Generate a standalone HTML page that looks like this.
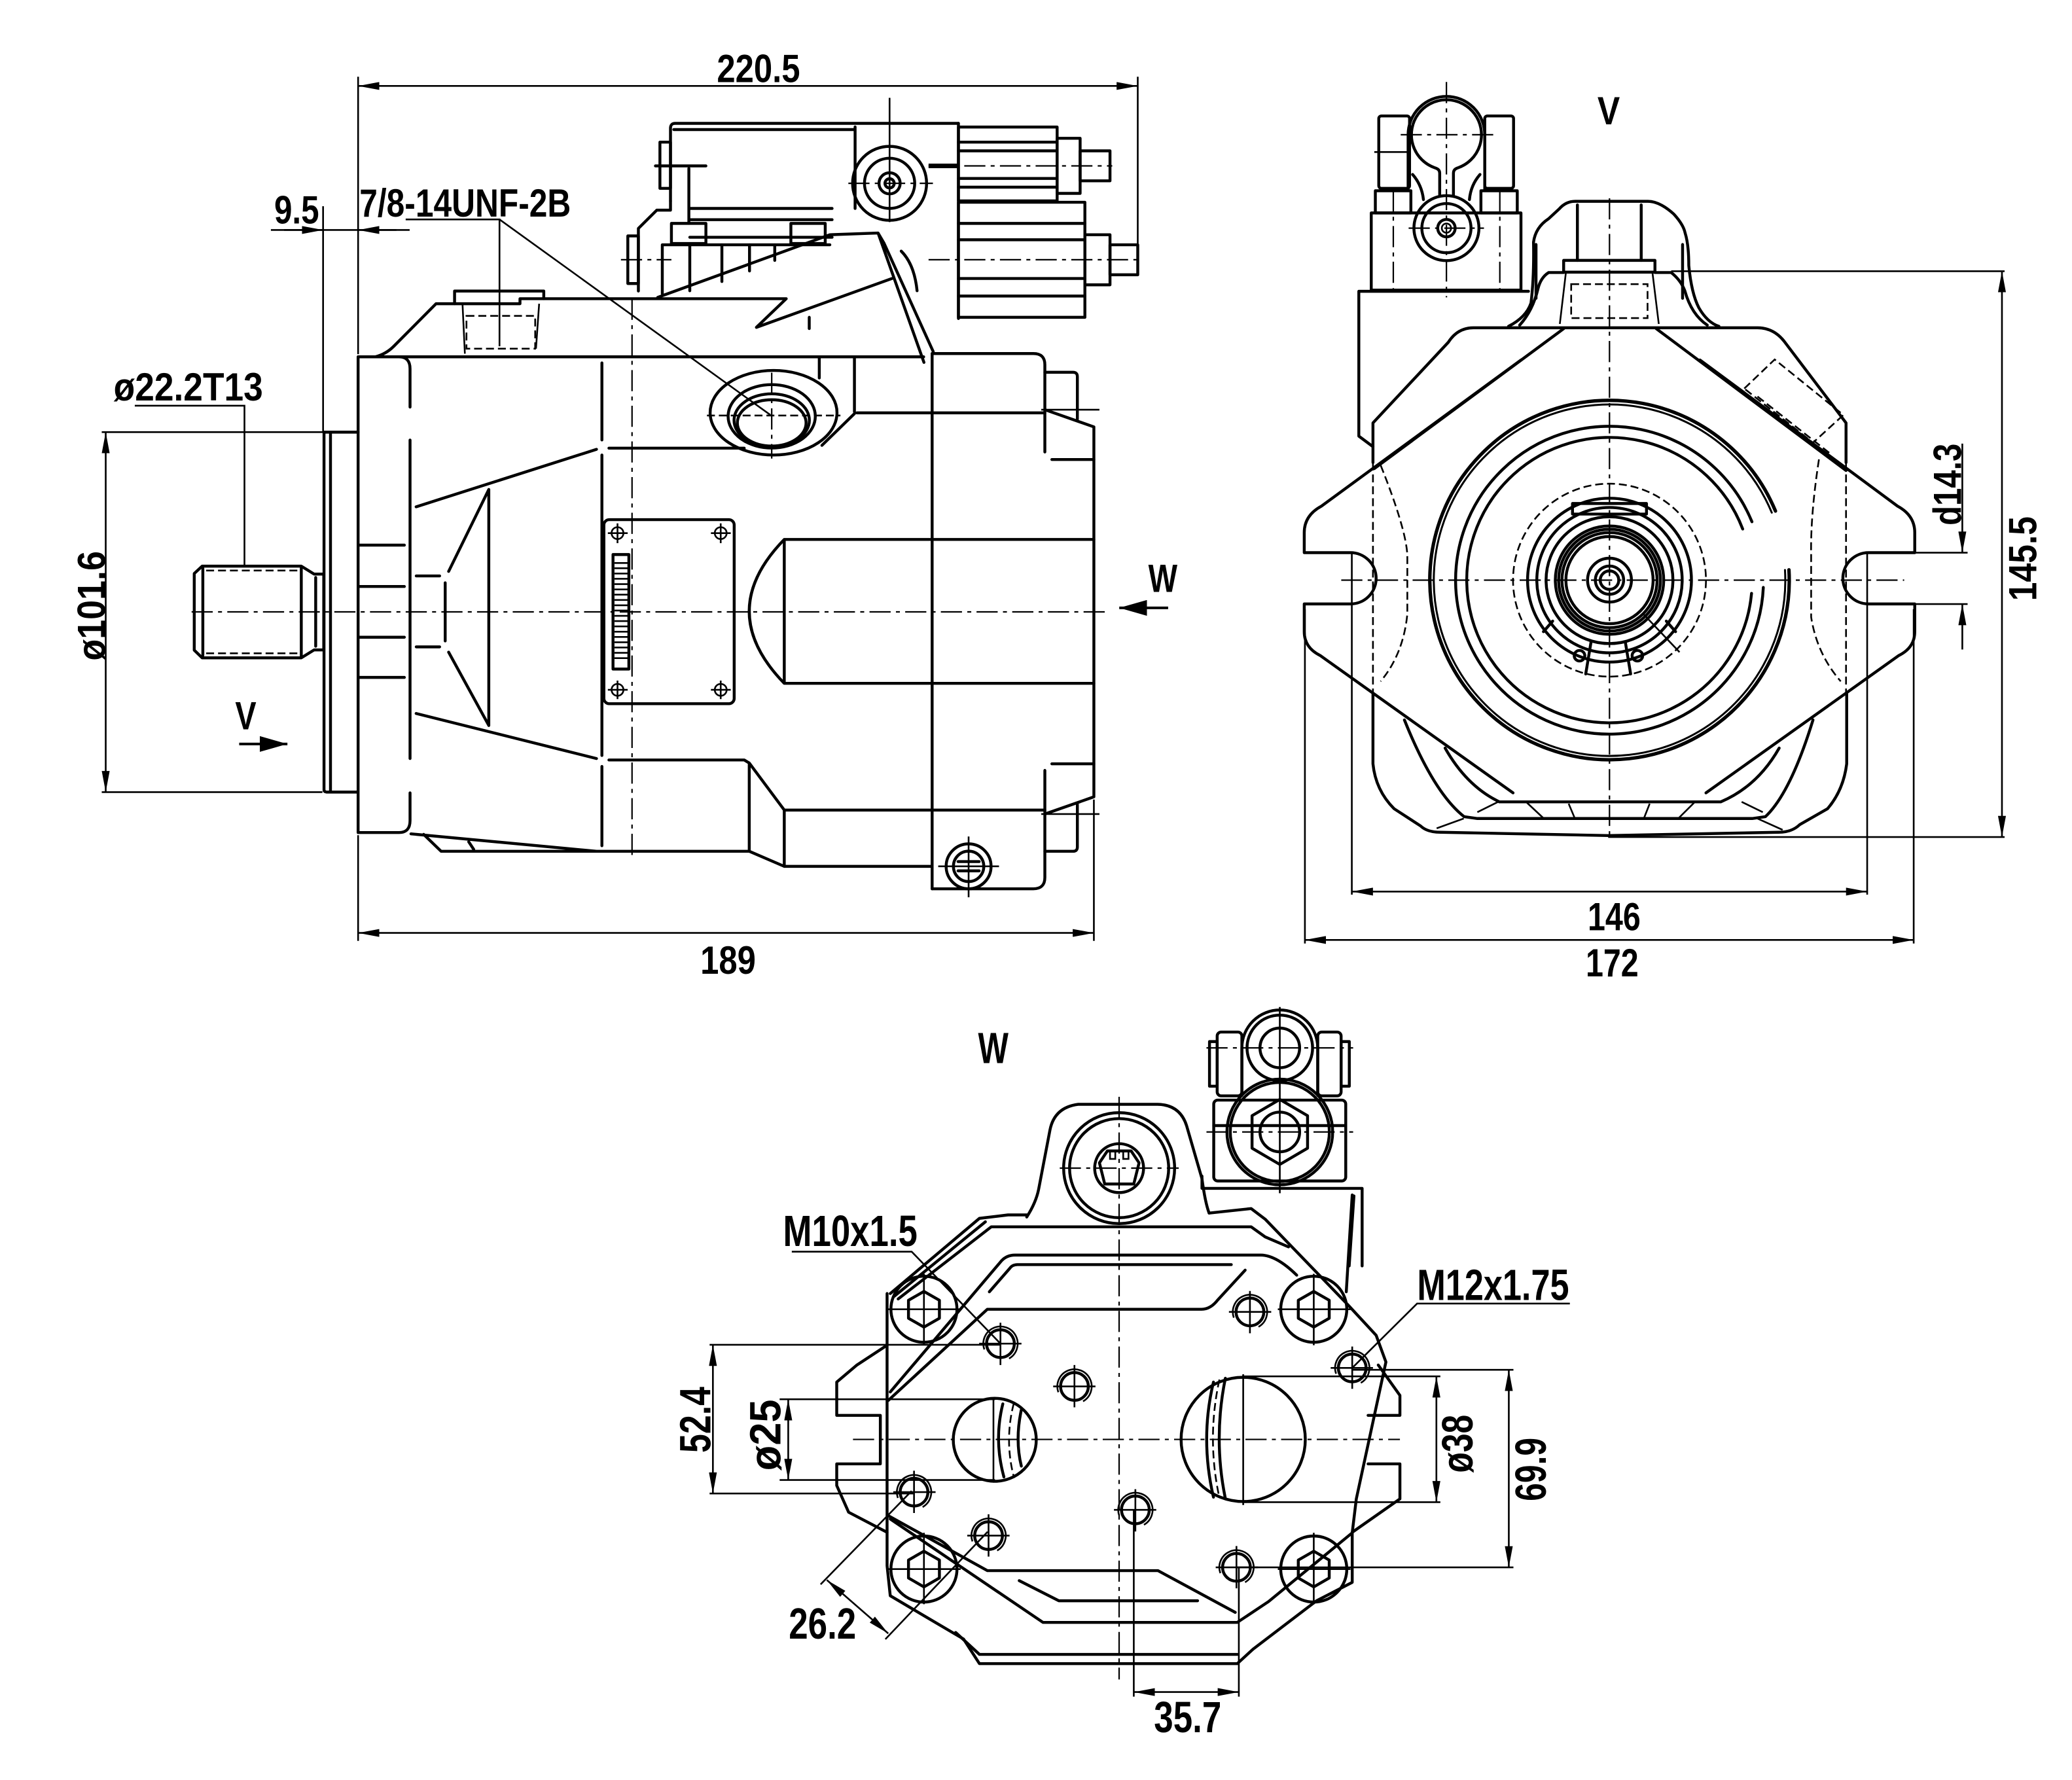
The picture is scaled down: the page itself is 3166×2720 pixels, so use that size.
<!DOCTYPE html>
<html><head><meta charset="utf-8"><style>
html,body{margin:0;padding:0;background:#fff;}
svg{display:block;}
.k{fill:none;stroke:#000;stroke-width:2.2;stroke-linejoin:round;stroke-linecap:round;}
.t{fill:none;stroke:#000;stroke-width:1.3;}
.c{fill:none;stroke:#000;stroke-width:1.1;stroke-dasharray:16 4 3 4;}
.d{fill:none;stroke:#000;stroke-width:1.3;stroke-dasharray:6 3;}
.tx{font-family:"Liberation Sans",Arial,sans-serif;font-weight:bold;font-size:30px;fill:#000;}
.tb{font-family:"Liberation Sans",Arial,sans-serif;font-weight:bold;font-size:33px;fill:#000;}
</style></head><body>
<svg width="3166" height="2720" viewBox="0 0 1568 1347" xmlns="http://www.w3.org/2000/svg">
<defs>
<marker id="ar" viewBox="0 0 16 6" refX="16" refY="3" markerWidth="16" markerHeight="6" markerUnits="userSpaceOnUse" orient="auto-start-reverse"><path d="M0,0 L16,3 L0,6 Z" fill="#000"/></marker>
<marker id="ab" viewBox="0 0 21 12" refX="21" refY="6" markerWidth="21" markerHeight="12" markerUnits="userSpaceOnUse" orient="auto"><path d="M0,0 L21,6 L0,12 Z" fill="#000"/></marker>
</defs>
<rect width="1568" height="1347" fill="#fff"/>

<!-- ================= LEFT VIEW ================= -->
<line class="t" x1="271" y1="58" x2="271" y2="268"/>
<line class="t" x1="861" y1="58" x2="861" y2="199"/>
<line class="t" x1="271" y1="65" x2="861" y2="65" marker-start="url(#ar)" marker-end="url(#ar)"/>
<text class="tx" x="574" y="62" text-anchor="middle" textLength="63" lengthAdjust="spacingAndGlyphs">220.5</text>

<line class="t" x1="244.5" y1="156" x2="244.5" y2="327"/>
<line class="t" x1="205" y1="174" x2="310" y2="174"/>
<line class="t" x1="215" y1="174" x2="244.5" y2="174" marker-end="url(#ar)"/>
<line class="t" x1="300" y1="174" x2="271" y2="174" marker-end="url(#ar)"/>
<text class="tx" x="224.5" y="169" text-anchor="middle" textLength="34" lengthAdjust="spacingAndGlyphs">9.5</text>

<text class="tx" x="272" y="164" textLength="160" lengthAdjust="spacingAndGlyphs">7/8-14UNF-2B</text>
<path class="t" d="M307,166 H378 V262 M378,166 L583,314"/>

<text class="tx" x="86" y="303" textLength="113" lengthAdjust="spacingAndGlyphs">ø22.2T13</text>
<path class="t" d="M102,307 H185 V429"/>

<line class="t" x1="77" y1="327" x2="267" y2="327"/>
<line class="t" x1="77" y1="599.4" x2="244" y2="599.4"/>
<line class="t" x1="80" y1="327" x2="80" y2="599.4" marker-start="url(#ar)" marker-end="url(#ar)"/>
<text class="tx" transform="translate(79.6,458.5) rotate(-90)" text-anchor="middle" textLength="83" lengthAdjust="spacingAndGlyphs">ø101.6</text>

<line class="t" x1="271" y1="632" x2="271" y2="712"/>
<line class="t" x1="827.8" y1="605" x2="827.8" y2="712"/>
<line class="t" x1="271" y1="706" x2="827.8" y2="706" marker-start="url(#ar)" marker-end="url(#ar)"/>
<text class="tx" x="551" y="737" text-anchor="middle" textLength="42" lengthAdjust="spacingAndGlyphs">189</text>

<text class="tx" x="186" y="552" text-anchor="middle" textLength="16" lengthAdjust="spacingAndGlyphs">V</text>
<line x1="181" y1="563" x2="217.5" y2="563" stroke="#000" stroke-width="2" marker-end="url(#ab)"/>
<text class="tx" x="880" y="448" text-anchor="middle" textLength="22" lengthAdjust="spacingAndGlyphs">W</text>
<line x1="884" y1="460" x2="847" y2="460" stroke="#000" stroke-width="2" marker-end="url(#ab)"/>

<!-- shaft & flange -->
<line class="c" x1="145" y1="463" x2="838" y2="463"/>
<path class="k" d="M153,428.4 H228 L237.7,434.4 H245 V491.8 H237.7 L228,497.8 H153 L147,492 V434 Z"/>
<path class="k" d="M153.5,430 V496 M228,429 V497 M238.9,437 V489"/>
<path class="d" d="M156,431.7 H226 M156,494.4 H226"/>
<path class="k" d="M245.2,327 V597.7 Q245.2,599.4 248,599.4 H270.8 M250.1,327 V598 M245.2,327 H271"/>

<!-- main body -->
<path class="k" d="M271,630 V270 H699"/>
<path class="k" d="M284,270 Q292,268 298,262 L330,229.8 H393.5 V226 H595 L572.4,247.7 L675,210.7"/>
<path class="k" d="M344,229.8 V220.2 H411.5 V226"/>
<path class="t" d="M350,229.8 L351.8,267.6 M408,229.8 L405.6,263.8"/>
<rect class="d" x="353" y="239" width="52" height="24.8"/>
<path class="k" d="M271,270 H302 Q310.3,270 310.3,279 V308 M310.3,333 V574 M310.3,600 V621 Q310.3,630 302,630 H271"/>
<path class="k" d="M271,412.5 H306 M271,443.8 H306 M271,482.2 H306 M271,512.6 H306"/>
<path class="k" d="M455.5,274.6 V332.9 M455.5,344.3 V571.7 M455.5,580 V640"/>
<line class="c" x1="478.3" y1="226" x2="478.3" y2="648"/>
<path class="k" d="M460.8,339.1 H563.2 M314.9,383.5 L451.4,340 M314.9,539.9 L451.4,574"/>
<path class="k" d="M460.8,575.1 H563.2 L567,577.4 L593.5,613 H790.7 M567,577.4 V644.2 M593.5,613 V655.6"/>
<path class="k" d="M311,631 L451.4,644.2 M320.6,631.4 L333.8,644.2 H567 L593.5,655.6 H705.4 M354.7,637 L358.5,642.8"/>
<path class="k" d="M369.9,370.4 V549 M369.9,370.4 L339.5,432.4 M339.5,493.5 L369.9,549 M336.9,441 V485 M315,435.8 H332.7 M315,489.5 H332.7"/>
<rect class="k" x="457" y="393.2" width="98.6" height="139.3" rx="4"/>
<g class="t">
<circle cx="467.3" cy="403.4" r="4.5"/><circle cx="545.4" cy="403.4" r="4.5"/><circle cx="467.3" cy="522" r="4.5"/><circle cx="545.4" cy="522" r="4.5"/>
<path d="M460,403.4 H475 M467.3,396 V411 M538,403.4 H553 M545.4,396 V411 M460,522 H475 M467.3,515 V529 M538,522 H553 M545.4,515 V529"/>
</g>
<rect class="k" x="463.9" y="419.6" width="12" height="86.7"/>
<path class="t" d="M465,426 H475 M465,430 H475 M465,434 H475 M465,438 H475 M465,442 H475 M465,446 H475 M465,450 H475 M465,454 H475 M465,458 H475 M465,462 H475 M465,466 H475 M465,470 H475 M465,474 H475 M465,478 H475 M465,482 H475 M465,486 H475 M465,490 H475 M465,494 H475 M465,498 H475"/>
<path class="k" d="M593.5,408.2 H827.8 M593.5,517.1 H827.8 M593.5,408.2 V517.1 M593.5,408.2 Q540.5,462.6 593.5,517.1"/>
<path class="k" d="M705.4,267.5 V672.6"/>
<path class="k" d="M705.4,267.5 H782 Q790.7,267.5 790.7,276 V310 L827.8,323 V603 L790.7,616 V664 Q790.7,672.6 782,672.6 H705.4"/>
<path class="k" d="M790.7,281.7 H812 Q815.3,281.7 815.3,285 V317.3 M790.7,644.2 H812 Q815.3,644.2 815.3,641 V608.7"/>
<path class="k" d="M790.7,310 V342 M790.7,583 V616 M796,347.7 H827.8 M796,578 H827.8"/>
<path class="t" d="M788,310 H832 M788,616 H832"/>
<path class="k" d="M648.5,312.4 H790.7 M620,271 V286 M646.6,271 V311.6 M646.6,313 L622,337"/>
<ellipse class="k" cx="585.4" cy="312.3" rx="48" ry="32"/>
<ellipse class="k" cx="584" cy="315" rx="33" ry="24"/>
<ellipse class="k" cx="584" cy="318" rx="28.5" ry="20"/>
<ellipse class="k" cx="584" cy="320" rx="26" ry="17.5"/>
<path class="d" d="M535,314.4 H636"/>
<line class="c" x1="584" y1="282" x2="584" y2="347"/>
<circle class="k" cx="733" cy="655.6" r="17"/>
<circle class="k" cx="733" cy="655.6" r="11.5"/>
<path class="k" d="M725,652 H741 M725,659 H741"/>
<path class="t" d="M710,655.6 H756 M733,633 V679"/>

<!-- control valve -->
<path class="k" d="M507.4,152 V97 Q507.4,93.3 511,93.3 H725.3"/>
<path class="k" d="M509.9,98 H647 M647.1,96 V157.7 M522,157.7 H629.7 M522,166.2 H629.7"/>
<rect class="k" x="499.4" y="107.5" width="8" height="35"/>
<path class="k" d="M496,125.5 H534.2 M521.3,127.4 V169"/>
<circle class="k" cx="673.2" cy="138.7" r="28"/>
<circle class="k" cx="673.2" cy="138.7" r="19"/>
<circle class="k" cx="673.2" cy="138.7" r="8"/>
<circle class="k" cx="673.2" cy="138.7" r="3.5"/>
<line class="t" x1="673.2" y1="74" x2="673.2" y2="168"/>
<line class="c" x1="642" y1="138.7" x2="706" y2="138.7"/>
<path class="k" d="M725.3,93.3 V241"/>
<rect class="k" x="725.3" y="96.1" width="74.7" height="55.9"/>
<path class="k" d="M725.3,107.5 H800 M725.3,114.1 H800 M725.3,135 H800 M725.3,141.6 H800"/>
<rect class="k" x="800" y="104.6" width="17.4" height="41.7"/>
<rect class="k" x="817.4" y="114.1" width="22.6" height="22.7"/>
<path d="M702.7,125.5 H725.3" stroke="#000" stroke-width="3.5"/>
<rect class="k" x="725.3" y="153" width="95.7" height="87.1"/>
<path class="k" d="M725.3,169 H821 M725.3,181.4 H821 M725.3,210.7 H821 M725.3,224 H821"/>
<rect class="k" x="821" y="177.6" width="19" height="37.9"/>
<rect class="k" x="840" y="185.2" width="21" height="22.7"/>
<line class="c" x1="702.7" y1="125.5" x2="841.7" y2="125.5"/>
<line class="c" x1="702.7" y1="196.5" x2="861" y2="196.5"/>
<path class="k" d="M483.1,220.2 V172.8 L497,159 H507.4 V152"/>
<rect class="k" x="475.1" y="178.5" width="8" height="36"/>
<path class="k" d="M501.2,222.1 V185.2 H628"/>
<rect class="k" x="508.1" y="169" width="26.1" height="15.2"/>
<rect class="k" x="598.5" y="169" width="26" height="15.2"/>
<path class="k" d="M522,185.2 V220 M546.3,185.2 V213 M567.2,185.2 V205 M586.3,185.2 V197 M522,179.5 H629.7"/>
<line class="c" x1="469.9" y1="196.5" x2="508.1" y2="196.5"/>
<path class="k" d="M497.7,225 L628,177.6 L664.5,176.3 L669,184 M664.5,176.3 L699.2,274.2 M669,184 L706.2,266"/>
<path class="k" d="M682,190 Q692,200 694,220"/>
<path class="k" d="M612.4,240.1 V248.6"/>

<!-- ================= RIGHT VIEW ================= -->
<text class="tx" x="1217.4" y="94" text-anchor="middle" textLength="17" lengthAdjust="spacingAndGlyphs">V</text>
<rect class="k" x="1043.4" y="87.7" width="23.3" height="54.8" rx="2"/>
<rect class="k" x="1123.6" y="87.7" width="21.8" height="54.8" rx="2"/>
<path class="k" d="M1065.6,143 V101.9 A29,29 0 0 1 1123.6,101.9 V143"/>
<path class="k" d="M1089.5,148 V131 Q1089.5,128 1086,127 A26.5,26.5 0 1 1 1103.2,127 Q1099.9,128 1099.9,131 V148"/>
<path class="k" d="M1069,132 Q1076,140 1077.2,151 M1120,132 Q1113,140 1112,151"/>
<rect class="k" x="1040.8" y="144.3" width="26.9" height="16.8"/>
<rect class="k" x="1120.7" y="144.3" width="27.5" height="16.8"/>
<rect class="k" x="1037.7" y="161.1" width="113.3" height="58.4"/>
<circle class="k" cx="1094.6" cy="172.6" r="24.6"/>
<circle class="k" cx="1094.6" cy="172.6" r="18.6"/>
<circle class="k" cx="1094.6" cy="172.6" r="6.6"/>
<circle class="t" cx="1094.6" cy="172.6" r="3.5"/>
<line class="c" x1="1054.4" y1="144" x2="1054.4" y2="223"/>
<line class="c" x1="1135" y1="144" x2="1135" y2="223"/>
<line class="c" x1="1094.6" y1="62" x2="1094.6" y2="225"/>
<line class="c" x1="1060" y1="101.9" x2="1130" y2="101.9"/>
<line class="c" x1="1066" y1="172.6" x2="1123" y2="172.6"/>
<line class="t" x1="1040" y1="115" x2="1066" y2="115"/>
<path class="k" d="M1156.7,220.4 H1028.3 V330 L1039,338"/>
<path class="k" d="M1141.6,246.9 Q1155,240 1158.6,229.2 Q1161,210 1160.5,183.2 Q1162,172 1171.9,165.5 L1180,158 Q1185,152.3 1192,152.3 H1247 Q1256,152.3 1266.7,162 Q1274,170 1275.2,176.2 Q1278,185 1278,200.9 Q1280,222 1285.6,232.8 Q1292,244 1300.8,246.9"/>
<path class="k" d="M1162.4,185 V225.7 M1273.3,185 V225.7 M1193.7,155 V197 M1242,155 V197"/>
<rect class="k" x="1183.3" y="197" width="69.1" height="8.9"/>
<path class="k" d="M1171.9,206.2 H1183.3 M1252.4,206.2 H1264.7 M1171.9,206.2 Q1166,210 1164,218 Q1160,235 1150,246 M1264.7,206.2 Q1272,212 1275,220 Q1280,238 1292,246"/>
<path class="t" d="M1185,206.2 L1180.4,245.1 M1250.5,206.2 L1255.3,245.1"/>
<rect class="d" x="1189" y="215" width="57.8" height="25.7"/>
<line class="t" x1="1264.7" y1="205.2" x2="1517" y2="205.2"/>
<path class="k" d="M1039,350 V320 L1096,259 Q1103,248 1115,248 H1330 Q1342,248 1350,258 L1397,320 V350"/>
<path class="d" d="M1039,350 V525 M1397,350 V525"/>
<path class="k" d="M1039,525 V578 Q1041,598 1055,612 L1075,625 Q1080,629.8 1090,629.8 L1217,632.3 L1346,629.8 Q1356,629.8 1362,624 L1383,612 Q1395,598 1397.5,578 V525"/>
<path class="k" d="M1183.3,248.7 L1040,354.6 M1253.4,248.7 L1397,356"/>
<path class="k" d="M1151,272.4 L1000,383 Q987,390 987,403 V418.2 H1022 A19.4,19.4 0 0 1 1022,457 H987 V478 Q987,490 999,496 L1145,600"/>
<path class="k" d="M1286.5,272.4 L1436,383 Q1449,390 1449,403 V418.2 H1414 A19.4,19.4 0 0 0 1414,457 H1449 V478 Q1449,490 1437,496 L1291,600"/>
<path class="d" d="M1044.8,352 Q1064,400 1065,420 V464.7 Q1062,495 1044.8,515.6 M1376.5,347.6 Q1370,390 1370.6,420 V467 Q1375,495 1393,515.6"/>
<path class="d" d="M1320,294 L1343,272 L1395,314 L1372,335 Z M1330,300 L1386,344"/>
<path class="k" d="M1062.8,544.8 Q1085,600 1108,618 L1118,619.4 H1326 L1336,618 Q1355,600 1372,544.8"/>
<path class="k" d="M1093.6,566.1 Q1110,595 1134.7,606.8 H1302.2 Q1330,595 1346.4,566.1"/>
<path class="t" d="M1118,614.6 L1133.7,606.8 M1087.2,626.8 L1107.7,619.4 M1155.6,607.5 L1168.3,619.4 M1187.1,608.2 L1191.8,619.4 M1248.4,608.2 L1244,619.4 M1282,607.5 L1270,619.4 M1318,606.8 L1334,614.6 M1330,619.4 L1349,628"/>
<path class="k" style="stroke-width:2.6" d="M1353.8,431.2 A136,136 0 1 1 1343.6,386.7"/>
<path class="k" style="stroke-width:1.5" d="M1350.8,431.3 A133,133 0 1 1 1340.8,387.9"/>
<path class="k" d="M1334.4,444.5 A116.5,116.5 0 1 1 1325.8,394.8"/>
<path class="k" d="M1325.5,449 A108,108 0 1 1 1318.8,400.3"/>
<circle class="d" cx="1218" cy="439" r="73"/>
<circle class="k" cx="1218" cy="439" r="62"/>
<circle class="k" cx="1218" cy="439" r="55"/>
<circle class="k" cx="1218" cy="439" r="48"/>
<circle class="k" cx="1218" cy="439" r="41"/>
<circle class="k" cx="1218" cy="439" r="38.5"/>
<circle class="k" cx="1218" cy="439" r="36"/>
<circle class="k" cx="1218" cy="439" r="33"/>
<circle class="k" cx="1218" cy="439" r="16.6"/>
<circle class="k" cx="1218" cy="439" r="10.7"/>
<circle class="k" cx="1218" cy="439" r="7"/>
<path class="k" d="M1190,381 H1246 V389 H1190 Z"/>
<circle class="k" cx="1195.3" cy="496.2" r="4"/>
<circle class="k" cx="1239.1" cy="496.2" r="4"/>
<path class="k" d="M1204,486 L1200,510 M1230,486 L1234,510 M1175,470 L1168,478 M1261,470 L1268,478"/>
<path class="t" d="M1243.8,464.8 L1271,493.5"/>
<line class="c" x1="1015" y1="439" x2="1441" y2="439"/>
<line class="c" x1="1218" y1="150" x2="1218" y2="636"/>
<line class="t" x1="1217" y1="633.4" x2="1517" y2="633.4"/>
<line class="t" x1="1515" y1="205.2" x2="1515" y2="633.4" marker-start="url(#ar)" marker-end="url(#ar)"/>
<text class="tx" transform="translate(1541,422.7) rotate(-90)" text-anchor="middle" textLength="64" lengthAdjust="spacingAndGlyphs">145.5</text>
<line class="t" x1="1413" y1="418.2" x2="1489" y2="418.2"/>
<line class="t" x1="1413" y1="457.1" x2="1489" y2="457.1"/>
<line class="t" x1="1485" y1="335.7" x2="1485" y2="418.2" marker-end="url(#ar)"/>
<line class="t" x1="1485" y1="491.5" x2="1485" y2="457.1" marker-end="url(#ar)"/>
<text class="tx" transform="translate(1484,366.6) rotate(-90)" text-anchor="middle" textLength="62" lengthAdjust="spacingAndGlyphs">d14.3</text>
<line class="t" x1="1023" y1="418" x2="1023" y2="677"/>
<line class="t" x1="1413" y1="418" x2="1413" y2="677"/>
<line class="t" x1="1023" y1="674.7" x2="1413" y2="674.7" marker-start="url(#ar)" marker-end="url(#ar)"/>
<text class="tx" x="1221.5" y="704" text-anchor="middle" textLength="40" lengthAdjust="spacingAndGlyphs">146</text>
<line class="t" x1="987.5" y1="461" x2="987.5" y2="714"/>
<line class="t" x1="1448.2" y1="461" x2="1448.2" y2="714"/>
<line class="t" x1="987.5" y1="711.3" x2="1448.2" y2="711.3" marker-start="url(#ar)" marker-end="url(#ar)"/>
<text class="tx" x="1220" y="739" text-anchor="middle" textLength="40" lengthAdjust="spacingAndGlyphs">172</text>

<!-- ================= BOTTOM VIEW (W) ================= -->
<text class="tb" x="751.7" y="804.6" text-anchor="middle" textLength="23" lengthAdjust="spacingAndGlyphs">W</text>
<path class="k" d="M777,921 Q784,910 786,900 L794.6,855 Q798,838 815.9,835.7 H876 Q893,836 898,852 L909.6,892 Q912,910 915,918"/>
<circle class="k" cx="846.9" cy="884" r="42"/>
<circle class="k" cx="846.9" cy="884" r="37.5"/>
<circle class="k" cx="846.9" cy="884" r="18.5"/>
<polygon class="k" points="838,871 856,871 862,880 858,896 836,896 832,880"/>
<path class="t" d="M840,871 V877 H844 V871 M850,871 V877 H854 V871"/>
<path class="k" d="M939.8,829 V793 A28.7,28.7 0 0 1 997.2,793 V829"/>
<rect class="k" x="921.1" y="781" width="18.7" height="48.3" rx="3"/>
<rect class="k" x="915.3" y="788.2" width="5.8" height="33.8"/>
<rect class="k" x="997.2" y="781" width="17.7" height="48.3" rx="3"/>
<rect class="k" x="1014.9" y="788.2" width="6.2" height="33.8"/>
<circle class="k" cx="968.5" cy="793" r="24.8"/>
<circle class="k" cx="968.5" cy="793" r="15"/>
<rect class="k" x="918.5" y="832.5" width="99.9" height="61.2" rx="3"/>
<path class="k" d="M918.5,851.8 H1018.4"/>
<circle class="k" cx="968.5" cy="856.6" r="40" fill="#fff"/>
<circle class="k" cx="968.5" cy="856.6" r="37.5"/>
<polygon class="k" points="968.5,832 989.5,844.3 989.5,868.9 968.5,881.2 947.5,868.9 947.5,844.3"/>
<circle class="k" cx="968.5" cy="856.6" r="15"/>
<line class="t" x1="968.5" y1="762" x2="968.5" y2="903"/>
<line class="c" x1="913" y1="793" x2="1024" y2="793"/>
<line class="c" x1="913" y1="856.6" x2="1024" y2="856.6"/>
<path class="k" d="M909.6,890 V899.3 H1030.8 V958 M1024.6,905 L1021,958 M1023.3,904.3 L1018.8,977.6"/>
<line class="c" x1="802" y1="884" x2="892" y2="884"/>
<path class="k" d="M673.7,978.9 L741.2,922 L762.8,919.4 H777 M915,918 L946.8,914.6 L957.4,922.6 L1020.3,987.7 L1041.4,1010.5 L1048.8,1030.7 L1026.4,1134.3 L1023.3,1160 V1197.5 L996.3,1211.4 L948.3,1248 L936.3,1259 H741.2 L729.2,1240.4 L699.2,1222.7 L673.7,1207.6 L671.3,1184.9 V978.9"/>
<path class="k" d="M671.3,1018 L648.2,1033.2 L633.2,1045.9 V1071.1 H666.2 V1107.8 H633.2 V1124.2 L642.2,1144.4 L671.3,1159.6"/>
<path class="k" d="M1043,1033 L1059.4,1056 V1071.1 H1035.3 M1035.3,1107.8 H1059.4 V1134.3 L1023.3,1159.6"/>
<path class="k" d="M676.7,981 L745.7,924.6 M679.7,983 L750.2,928.4 H946.8 L957.4,936 L975.1,943.6"/>
<path class="k" d="M672.2,1059.8 L747.2,990.8 H909.3 Q916,990.8 921.4,983.9 L942.3,961.2"/>
<path class="k" d="M673.7,1053.4 L758,954 Q762,949.8 768,949.8 H954.3 Q966,950 981.3,965"/>
<path class="k" d="M748.7,977.6 L764,960 Q766,957 770,957 H931.8"/>
<path class="k" d="M672.2,1147 L747.2,1188.6 H876.3 L934.8,1220.2"/>
<path class="k" d="M673.7,1149.5 L789.3,1227.8 H936.3 L960,1212 L1023.3,1160"/>
<path class="k" d="M771.3,1196.2 L801.3,1211.4 H906.3"/>
<path class="k" d="M723.2,1235.4 L741.2,1252 H936.3"/>
<g class="k">
<circle cx="699.2" cy="990.8" r="25"/><circle cx="994.2" cy="990.8" r="25"/><circle cx="699.2" cy="1187.4" r="25"/><circle cx="994.2" cy="1187.4" r="25"/>
<polygon points="699.2,977.3 710.9,984 710.9,997.6 699.2,1004.3 687.5,997.6 687.5,984"/>
<polygon points="994.2,977.3 1005.9,984 1005.9,997.6 994.2,1004.3 982.5,997.6 982.5,984"/>
<polygon points="699.2,1173.9 710.9,1180.6 710.9,1194.2 699.2,1200.9 687.5,1194.2 687.5,1180.6"/>
<polygon points="994.2,1173.9 1005.9,1180.6 1005.9,1194.2 994.2,1200.9 982.5,1194.2 982.5,1180.6"/>
</g>
<path class="t" d="M672,990.8 H727 M699.2,964 V1018 M967,990.8 H1022 M994.2,964 V1018 M672,1187.4 H727 M699.2,1160 V1214 M967,1187.4 H1022 M994.2,1160 V1214"/>
<g class="k">
<circle cx="757.1" cy="1016.8" r="10.5"/><circle cx="813.1" cy="1049.2" r="10.5"/><circle cx="945.9" cy="992.8" r="10.5"/><circle cx="1023.3" cy="1035.2" r="10.5"/>
<circle cx="691.7" cy="1129.2" r="10.5"/><circle cx="748.1" cy="1162.1" r="10.5"/><circle cx="859.2" cy="1142.6" r="10.5"/><circle cx="935.7" cy="1186.1" r="10.5"/>
</g>
<g class="t">
<path d="M744.9,1021.2 A13,13 0 1 1 763.6,1028.1"/><path d="M800.9,1053.6 A13,13 0 1 1 819.6,1060.5"/><path d="M933.7,997.2 A13,13 0 1 1 952.4,1004.1"/><path d="M1011.1,1039.6 A13,13 0 1 1 1029.8,1046.5"/>
<path d="M679.5,1133.6 A13,13 0 1 1 698.2,1140.5"/><path d="M735.9,1166.5 A13,13 0 1 1 754.6,1173.4"/><path d="M847,1147 A13,13 0 1 1 865.7,1153.9"/><path d="M923.5,1190.5 A13,13 0 1 1 942.2,1197.4"/>
<path d="M741,1016.8 H773 M757.1,1001 V1033 M797,1049.2 H829 M813.1,1033 V1065 M930,992.8 H962 M945.9,977 V1009 M1007,1035.2 H1039 M1023.3,1019 V1051 M676,1129.2 H708 M691.7,1113 V1145 M732,1162.1 H764 M748.1,1146 V1178 M843,1142.6 H875 M859.2,1127 V1159 M920,1186.1 H952 M935.7,1170 V1202"/>
</g>
<circle class="k" cx="752.8" cy="1089.6" r="31.4"/>
<path class="k" d="M758.9,1062.4 Q752,1089.6 759.7,1117.7 M772.9,1066.9 Q768,1089.6 772.9,1109.5"/>
<path class="d" d="M767.2,1062 Q760,1089.6 767.2,1117.7"/>
<line class="t" x1="751.8" y1="1058" x2="751.8" y2="1122"/>
<circle class="k" cx="940.8" cy="1089.3" r="47"/>
<path class="k" d="M918.3,1045.9 Q908,1088.8 918.3,1133 M927.3,1043 Q918,1088.8 927.3,1134"/>
<path class="d" d="M922.8,1044 Q913,1088.8 922.8,1133.5"/>
<line class="t" x1="940.8" y1="1040" x2="940.8" y2="1139"/>
<line class="c" x1="645.5" y1="1089.3" x2="1059.4" y2="1089.3"/>
<line class="c" x1="846.9" y1="830" x2="846.9" y2="1271"/>
<line class="t" x1="537" y1="1017.7" x2="757" y2="1017.7"/>
<line class="t" x1="537" y1="1130.2" x2="692" y2="1130.2"/>
<line class="t" x1="539.5" y1="1017.7" x2="539.5" y2="1130.2" marker-start="url(#ar)" marker-end="url(#ar)"/>
<text class="tb" transform="translate(537.5,1074.4) rotate(-90)" text-anchor="middle" textLength="50" lengthAdjust="spacingAndGlyphs">52.4</text>
<line class="t" x1="590" y1="1058.9" x2="753" y2="1058.9"/>
<line class="t" x1="590" y1="1120" x2="753" y2="1120"/>
<line class="t" x1="596.5" y1="1058.9" x2="596.5" y2="1120" marker-start="url(#ar)" marker-end="url(#ar)"/>
<text class="tb" transform="translate(590.5,1086) rotate(-90)" text-anchor="middle" textLength="54" lengthAdjust="spacingAndGlyphs">ø25</text>
<line class="t" x1="940" y1="1041.6" x2="1090" y2="1041.6"/>
<line class="t" x1="940" y1="1136.8" x2="1090" y2="1136.8"/>
<line class="t" x1="1087" y1="1041.6" x2="1087" y2="1136.8" marker-start="url(#ar)" marker-end="url(#ar)"/>
<text class="tb" transform="translate(1114.4,1092.6) rotate(-90)" text-anchor="middle" textLength="44" lengthAdjust="spacingAndGlyphs">ø38</text>
<line class="t" x1="1023" y1="1036.6" x2="1145.3" y2="1036.6"/>
<line class="t" x1="936" y1="1186.1" x2="1145.3" y2="1186.1"/>
<line class="t" x1="1141.8" y1="1036.6" x2="1141.8" y2="1186.1" marker-start="url(#ar)" marker-end="url(#ar)"/>
<text class="tb" transform="translate(1169.7,1112) rotate(-90)" text-anchor="middle" textLength="48" lengthAdjust="spacingAndGlyphs">69.9</text>
<line class="t" x1="689.9" y1="1128.3" x2="621" y2="1199"/>
<line class="t" x1="747.4" y1="1159.2" x2="670" y2="1240.5"/>
<line class="t" x1="625.7" y1="1195.7" x2="672.2" y2="1236.2" marker-start="url(#ar)" marker-end="url(#ar)"/>
<text class="tb" x="622.4" y="1240" text-anchor="middle" textLength="51" lengthAdjust="spacingAndGlyphs">26.2</text>
<line class="t" x1="858" y1="1142" x2="858" y2="1284"/>
<line class="t" x1="937.5" y1="1186" x2="937.5" y2="1284"/>
<line class="t" x1="858" y1="1280.5" x2="937.5" y2="1280.5" marker-start="url(#ar)" marker-end="url(#ar)"/>
<text class="tb" x="898.8" y="1311" text-anchor="middle" textLength="51" lengthAdjust="spacingAndGlyphs">35.7</text>
<text class="tb" x="592.6" y="943" textLength="101.7" lengthAdjust="spacingAndGlyphs">M10x1.5</text>
<path class="t" d="M599.2,947.2 H689.9 L757.1,1016.8"/>
<text class="tb" x="1072.4" y="983.8" textLength="115" lengthAdjust="spacingAndGlyphs">M12x1.75</text>
<path class="t" d="M1188,986.5 H1072.4 L1023.3,1035.2"/>
</svg>
</body></html>
